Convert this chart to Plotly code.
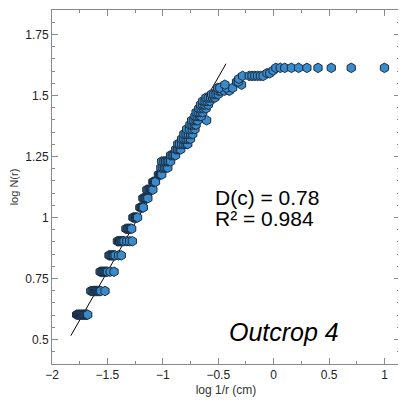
import plotly.graph_objects as go

# log N(r) levels and the log 1/r positions of the points at each level
levels = [0.602, 0.699, 0.778, 0.845, 0.903, 0.954, 1.0, 1.041, 1.079, 1.114,
          1.146, 1.176, 1.204, 1.230, 1.255, 1.279, 1.301, 1.322, 1.342, 1.362,
          1.380, 1.398, 1.415, 1.431, 1.447, 1.462, 1.477, 1.491, 1.505, 1.519,
          1.531, 1.544, 1.556, 1.568, 1.580, 1.591, 1.602, 1.613]
level_x = [
    [-1.778, -1.768, -1.759, -1.75, -1.742, -1.733, -1.725, -1.716, -1.708, -1.70, -1.692, -1.685, -1.678],
    [-1.65, -1.638, -1.627, -1.616, -1.606, -1.596, -1.587, -1.578, -1.569, -1.56, -1.522],
    [-1.566, -1.556, -1.546, -1.537, -1.528, -1.519, -1.51, -1.50, -1.475, -1.44],
    [-1.486, -1.476, -1.466, -1.457, -1.448, -1.44, -1.43, -1.40, -1.375],
    [-1.41, -1.40, -1.39, -1.38, -1.37, -1.36, -1.35, -1.325, -1.30, -1.275],
    [-1.333, -1.323, -1.314, -1.305, -1.297, -1.289, -1.281],
    [-1.27, -1.261, -1.252, -1.244, -1.236, -1.228],
    [-1.207, -1.198, -1.19, -1.183, -1.176],
    [-1.18, -1.17, -1.161, -1.152, -1.143, -1.135],
    [-1.144, -1.133, -1.122, -1.111, -1.10, -1.09],
    [-1.09, -1.082, -1.074, -1.066],
    [-1.04, -1.03, -1.02, -1.01],
    [-1.018, -1.0, -0.985, -0.97, -0.955],
    [-1.01, -0.99, -0.975, -0.96, -0.945, -0.93],
    [-0.93, -0.915, -0.90, -0.885],
    [-0.883, -0.868, -0.853, -0.838],
    [-0.865, -0.85, -0.83, -0.81, -0.79, -0.775],
    [-0.83, -0.81, -0.79, -0.77, -0.75],
    [-0.81, -0.79, -0.77, -0.75, -0.73],
    [-0.785, -0.76, -0.735, -0.71],
    [-0.755, -0.735, -0.715, -0.70],
    [-0.74, -0.72, -0.70, -0.685, -0.605],
    [-0.71, -0.69, -0.67, -0.655],
    [-0.70, -0.68, -0.66, -0.64],
    [-0.675, -0.655, -0.635, -0.61],
    [-0.66, -0.64, -0.62, -0.59],
    [-0.64, -0.62, -0.60, -0.575],
    [-0.61, -0.59, -0.57, -0.55, -0.53],
    [-0.56, -0.54, -0.52, -0.50],
    [-0.50, -0.48, -0.445, -0.40],
    [-0.505, -0.486, -0.425, -0.37],
    [-0.44, -0.29],
    [-0.335, -0.32],
    [-0.315],
    [-0.28, -0.22, -0.195, -0.17, -0.145, -0.12, -0.095],
    [-0.06, -0.035],
    [-0.005],
    [0.02, 0.06, 0.10, 0.16, 0.225, 0.30, 0.40, 0.52, 0.70, 1.0],
]

# fitted power-law line, D(c) = 0.78
fit_x = [-1.83, -0.43]
fit_y = [0.516, 1.63]

pts_x = [x for xs in level_x for x in xs]
pts_y = [lv for lv, xs in zip(levels, level_x) for _ in xs]

fig = go.Figure()
fig.add_trace(go.Scatter(x=fit_x, y=fit_y, mode="lines",
                         line=dict(color="black", width=1), hoverinfo="skip"))
fig.add_trace(go.Scatter(
    x=pts_x, y=pts_y, mode="markers",
    marker=dict(symbol="hexagon", size=9.5, color="#3a8bcb",
                line=dict(color="#1a2c40", width=1)),
))

font = "Liberation Sans, Arial, sans-serif"
axis_style = dict(
    showline=True, linecolor="#8a8a8a", linewidth=1, mirror="ticks",
    ticks="inside", ticklen=6, tickcolor="#8a8a8a", showgrid=False,
    zeroline=False, tickfont=dict(size=12, color="#222", family=font),
)
fig.update_xaxes(range=[-2, 1.14], dtick=0.5, tick0=0,
                 minor=dict(ticks="inside", ticklen=3, dtick=0.25, tickcolor="#8a8a8a"),
                 title=dict(text="log 1/r (cm)", font=dict(size=12, color="#333", family=font),
                            standoff=4),
                 **axis_style)
fig.update_yaxes(range=[0.4, 1.85], dtick=0.25, tick0=0,
                 minor=dict(ticks="inside", ticklen=3, dtick=0.05, tickcolor="#8a8a8a"),
                 title=dict(text="log N(r)", font=dict(size=11, color="#333", family=font),
                            standoff=6),
                 **axis_style)

fig.add_annotation(x=-0.55, y=1.08, xref="x", yref="y", text="D(c) = 0.78",
                   showarrow=False, xanchor="left", yanchor="middle",
                   font=dict(size=21, color="black", family=font))
fig.add_annotation(x=-0.55, y=0.995, xref="x", yref="y", text="R² = 0.984",
                   showarrow=False, xanchor="left", yanchor="middle",
                   font=dict(size=21, color="black", family=font))
fig.add_annotation(x=-0.42, y=0.53, xref="x", yref="y", text="<i>Outcrop 4</i>",
                   showarrow=False, xanchor="left", yanchor="middle",
                   font=dict(size=25, color="black", family=font))

# page body adds an 8px margin, so the figure is sized to fit inside the window
fig.update_layout(
    width=398, height=397, showlegend=False,
    margin=dict(l=44, r=6, t=2, b=41),
    plot_bgcolor="white", paper_bgcolor="white",
    font=dict(family=font),
)

fig.write_html("out.html")
